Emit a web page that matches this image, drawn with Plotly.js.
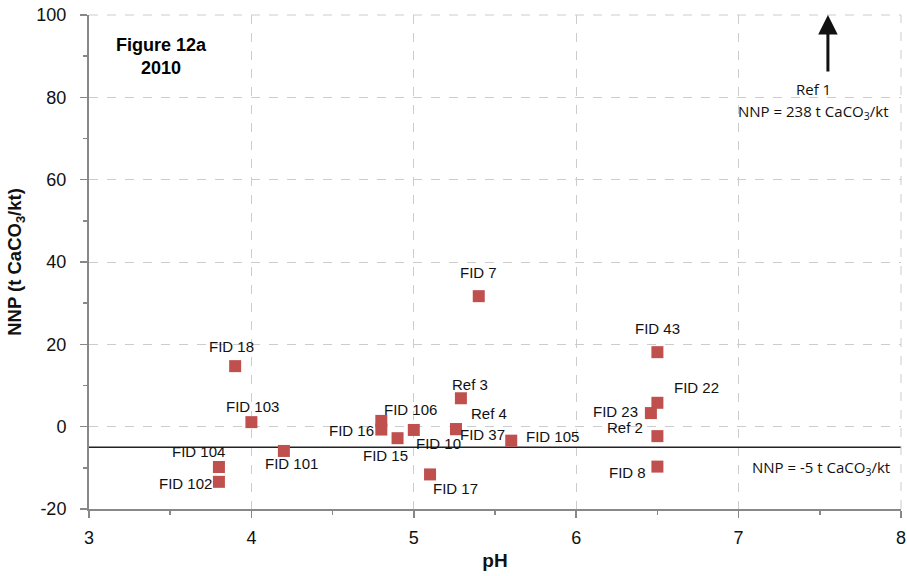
<!DOCTYPE html>
<html><head><meta charset="utf-8">
<script src="https://cdn.plot.ly/plotly-3.0.1.min.js"></script>
<style>body{margin:0;background:#fff}#chart{width:907px;height:576px}</style>
</head><body><div id="chart"></div>
<script>
const names = ["FID 18","FID 103","FID 104","FID 102","FID 101","FID 106","FID 16","FID 15","FID 10","Ref 3","Ref 4","FID 37","FID 105","FID 17","FID 7","FID 43","FID 22","FID 23","Ref 2","FID 8"];
const ph  = [3.9, 4.0, 3.8, 3.8, 4.2, 4.8, 4.8, 4.9, 5.0, 5.29, 5.26, 5.26, 5.6, 5.1, 5.4, 6.5, 6.5, 6.46, 6.5, 6.5];
const nnp = [14.7, 1.1, -9.8, -13.4, -5.9, 1.4, -0.7, -2.8, -0.8, 6.9, -0.6, -0.6, -3.4, -11.6, 31.7, 18.1, 5.8, 3.3, -2.3, -9.7];
// label offsets in pixels (dx, dy screen-down)
const ldx = [-4, 1, -20, -33, 8, 29, -30, -12, 25, 9, 33, 26, 41, 25, 0, 0, 39, -35, -32, -30];
const ldy = [-20, -16, -16, 2, 13, -11, 1, 17, 14, -14, -16, 5, -4, 14, -24, -24, -15, -2, -9, 6];
const xTicks = [3,4,5,6,7,8];
const xTickText = ["3","4","5","6","7","8"];
const yTicks = [-20,0,20,40,60,80,100];
const yTickText = ["-20","0","20","40","60","80","100"];
const threshold = -5;

const labelFont = {family:'Liberation Sans, Arial, sans-serif', size:15, color:'#111'};
const noteFont = {family:'Open Sans, Liberation Sans, sans-serif', size:15, color:'#111'};
const annotations = names.map((n,i)=>({
  x: ph[i], y: nnp[i], xref:'x', yref:'y', text:n, showarrow:false,
  xshift: ldx[i], yshift: -ldy[i], font:labelFont
}));
annotations.push(
  {xref:'paper', yref:'paper', x:0.0887, y:0.915, xanchor:'center', yanchor:'middle',
   text:'<b>Figure 12a</b><br><b>2010</b>', showarrow:false, align:'center',
   font:{family:'Liberation Sans Narrow, Liberation Sans, sans-serif', size:18, color:'#000'}},
  {x:7.55, y:100, xref:'x', yref:'y', text:'', showarrow:true, ax:0, ay:58, axref:'pixel', ayref:'pixel',
   arrowhead:2, arrowsize:1.3, arrowwidth:3, arrowcolor:'#111'},
  {x:7.46, y:82, xref:'x', yref:'y', text:'Ref 1', showarrow:false, font:noteFont},
  {x:7.46, y:76.5, xref:'x', yref:'y', text:'NNP = 238 t CaCO<sub>3</sub>/kt', showarrow:false, font:noteFont},
  {x:7.51, y:-10, xref:'x', yref:'y', text:'NNP = -5 t CaCO<sub>3</sub>/kt', showarrow:false, font:noteFont}
);

const data = [
  {x:[3,8], y:[threshold,threshold], mode:'lines', line:{color:'#222', width:1.5}, hoverinfo:'skip', showlegend:false},
  {x:ph, y:nnp, mode:'markers', type:'scatter', marker:{symbol:'square', size:12, color:'#C0504D'}, showlegend:false}
];

const tickFont = {family:'Liberation Sans Narrow, Liberation Sans, sans-serif', size:18, color:'#111'};
const layout = {
  width:907, height:576,
  margin:{l:89, r:6, t:15, b:67},
  paper_bgcolor:'#fff', plot_bgcolor:'#fff',
  xaxis:{range:[3,8], tickvals:xTicks, ticktext:xTickText, ticks:'outside', ticklen:7, tickwidth:1.5, tickcolor:'#888',
    showline:true, linecolor:'#888', linewidth:2, showgrid:true, gridcolor:'#ccc', griddash:'dash', gridwidth:1,
    zeroline:false, tickfont:tickFont, ticklabelstandoff:4,
    minor:{dtick:0.5, ticks:'outside', ticklen:4, tickcolor:'#888', showgrid:false},
    title:{text:'<b>pH</b>', font:{family:'Liberation Sans Narrow, Liberation Sans, sans-serif', size:19, color:'#111'}, standoff:7}},
  yaxis:{range:[-20,100], tickvals:yTicks, ticktext:yTickText, ticks:'outside', ticklen:7, tickwidth:1.5, tickcolor:'#888',
    showline:true, linecolor:'#888', linewidth:2, showgrid:true, gridcolor:'#ccc', griddash:'dash', gridwidth:1,
    zeroline:false, tickfont:tickFont, ticklabelstandoff:10,
    minor:{dtick:10, ticks:'outside', ticklen:4, tickcolor:'#888', showgrid:false},
    title:{text:'<b>NNP (t CaCO<sub>3</sub>/kt)</b>', font:{family:'Liberation Sans, sans-serif', size:18.5, color:'#111'}, standoff:10}},
  annotations: annotations,
  shapes:[{type:'line', xref:'paper', yref:'paper', x0:1, x1:1, y0:0, y1:1, line:{color:'#ccc', width:1, dash:'dash'}},
          {type:'line', xref:'paper', yref:'paper', x0:0, x1:1, y0:1, y1:1, line:{color:'#ccc', width:1, dash:'dash'}}]
};
Plotly.newPlot('chart', data, layout, {displayModeBar:false, staticPlot:true});
</script>
</body></html>
